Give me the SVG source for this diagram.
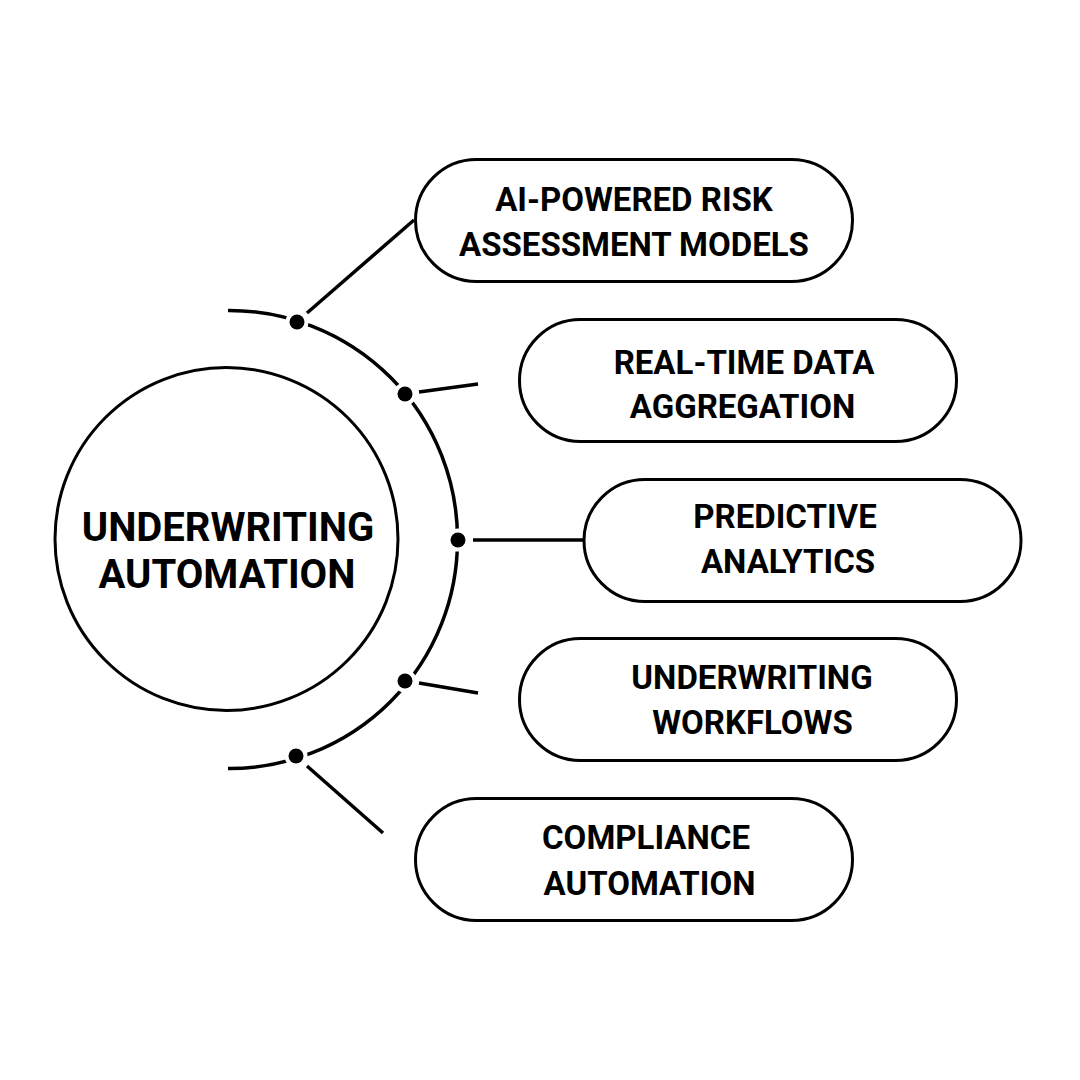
<svg xmlns="http://www.w3.org/2000/svg" width="1080" height="1080" viewBox="0 0 1080 1080">
<style>
.ln{fill:none;stroke:#000;stroke-width:3.5;stroke-linecap:butt}
.arc{fill:none;stroke:#000;stroke-width:3.5}
.box{fill:#fff;stroke:#000;stroke-width:3}
.dot{fill:#000;stroke:#fff;stroke-width:8;paint-order:stroke}
.t{font-family:Roboto,"Liberation Sans",sans-serif;font-weight:700;font-size:33px;fill:#000;text-anchor:middle}
.tc{font-size:40px}
</style>
<rect width="1080" height="1080" fill="#fff"/>
<g id="center">
<circle cx="226.5" cy="539" r="171.5" fill="none" stroke="#000" stroke-width="3"/>
<text class="t tc" x="228" y="541">UNDERWRITING</text>
<text class="t tc" x="227" y="588">AUTOMATION</text>
</g>
<g id="connectors">
<path class="arc" d="M228,310.5 A228.5,228.5 0 0 1 457.5,539.5 A228.5,228.5 0 0 1 228,768.5"/>
<line class="ln" x1="307" y1="313" x2="414" y2="220"/>
<line class="ln" x1="419" y1="392" x2="478" y2="384"/>
<line class="ln" x1="473" y1="540" x2="585" y2="540"/>
<line class="ln" x1="419" y1="683" x2="478" y2="693"/>
<line class="ln" x1="307" y1="766" x2="383" y2="833"/>
<circle class="dot" cx="297" cy="322" r="7.5"/>
<circle class="dot" cx="405" cy="394" r="7.5"/>
<circle class="dot" cx="458" cy="540" r="7.5"/>
<circle class="dot" cx="405" cy="681" r="7.5"/>
<circle class="dot" cx="296" cy="756" r="7.5"/>
</g>
<g id="node1">
<rect class="box" x="415.5" y="159.5" width="437" height="122" rx="61"/>
<text class="t" x="634" y="211">AI-POWERED RISK</text>
<text class="t" x="634" y="256">ASSESSMENT MODELS</text>
</g>
<g id="node2">
<rect class="box" x="519.5" y="319.5" width="437" height="122" rx="61"/>
<text class="t" x="744" y="374">REAL-TIME DATA</text>
<text class="t" x="742.5" y="418">AGGREGATION</text>
</g>
<g id="node3">
<rect class="box" x="584" y="479.5" width="437" height="122" rx="61"/>
<text class="t" x="785" y="528">PREDICTIVE</text>
<text class="t" x="788" y="573">ANALYTICS</text>
</g>
<g id="node4">
<rect class="box" x="519.5" y="638.5" width="437" height="122" rx="61"/>
<text class="t" x="752" y="689">UNDERWRITING</text>
<text class="t" x="752.5" y="734">WORKFLOWS</text>
</g>
<g id="node5">
<rect class="box" x="415.5" y="798.5" width="437" height="122" rx="61"/>
<text class="t" x="646" y="849">COMPLIANCE</text>
<text class="t" x="649.5" y="895">AUTOMATION</text>
</g>
</svg>
